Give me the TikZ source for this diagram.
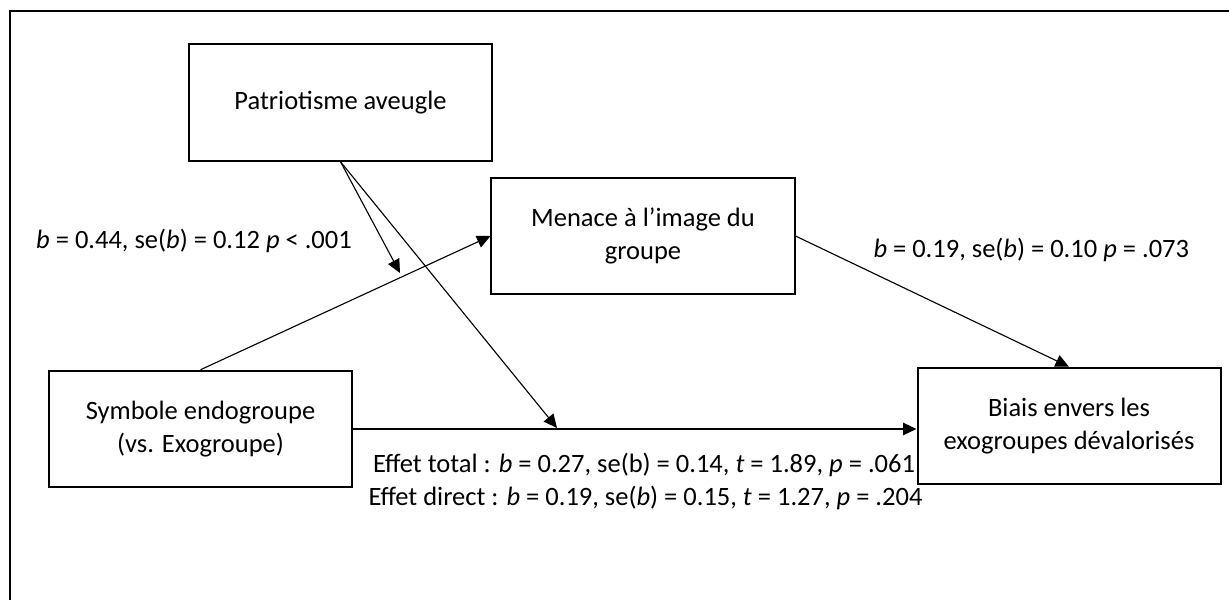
\documentclass[tikz,border=0pt]{standalone}
\usepackage{fontspec}
\setmainfont{Carlito}
\usetikzlibrary{arrows.meta}

\begin{document}
\begin{tikzpicture}
[x=0.4pt,y=-0.4pt,%
  font=\fontsize{10.6}{13.2}\selectfont,%
  boxDecorate/.style={shape=rectangle,draw,line width=0.8pt,minimum width=121.2pt,minimum height=46.6pt,inner sep=2pt,align=center},%
  arrowDecorate/.style={-{Triangle[length=5.4pt,width=5pt]},line width=0.45pt},%
  labelDecorate/.style={inner sep=0pt,anchor=base}]
\useasboundingbox (0,0) rectangle (1229,600);
\clip (0,0) rectangle (1229,600);
%% frame
\draw[line width=0.9pt] (1240,11) -- (10,11) -- (10,610);
%% boxes
\foreach \nodename/\x/\y/\nodetext in {patriot/340.5/102.5/{Patriotisme aveugle},
  menace/643/236/{Menace à l’image du\\groupe},
  symbole/200.5/429/{Symbole endogroupe\\(vs. Exogroupe)},
  biais/1069/426/{Biais envers les\\exogroupes dévalorisés}}
{
  \node (\nodename) at (\x,\y) [boxDecorate] {\nodetext};
}
\coordinate (modA) at (400,273);
\coordinate (modB) at (557,428);
%% paths
\path
\foreach \startnode/\endnode in {
  symbole.north/menace.west, menace.east/biais.north, patriot.south/modA, patriot.south/modB}
{
  (\startnode) edge[arrowDecorate] (\endnode)
};
\draw[arrowDecorate] (symbole.east) -- (symbole.east -| biais.west);
%% coefficients
\node (pathA) [labelDecorate] at (194,248) {\textit{b} = 0.44, se(\textit{b}) = 0.12 \textit{p} < .001};
\node (pathB) [labelDecorate,anchor=base west] at (873,257) {\textit{b} = 0.19, se(\textit{b}) = 0.10 \textit{p} = .073};
\node (total) [labelDecorate] at (644,472) {Effet total : \textit{b} = 0.27, se(b) = 0.14, \textit{t} = 1.89, \textit{p} = .061};
\node (direct) [labelDecorate] at (645.5,505) {Effet direct : \textit{b} = 0.19, se(\textit{b}) = 0.15, \textit{t} = 1.27, \textit{p} = .204};
\end{tikzpicture}
\end{document}
